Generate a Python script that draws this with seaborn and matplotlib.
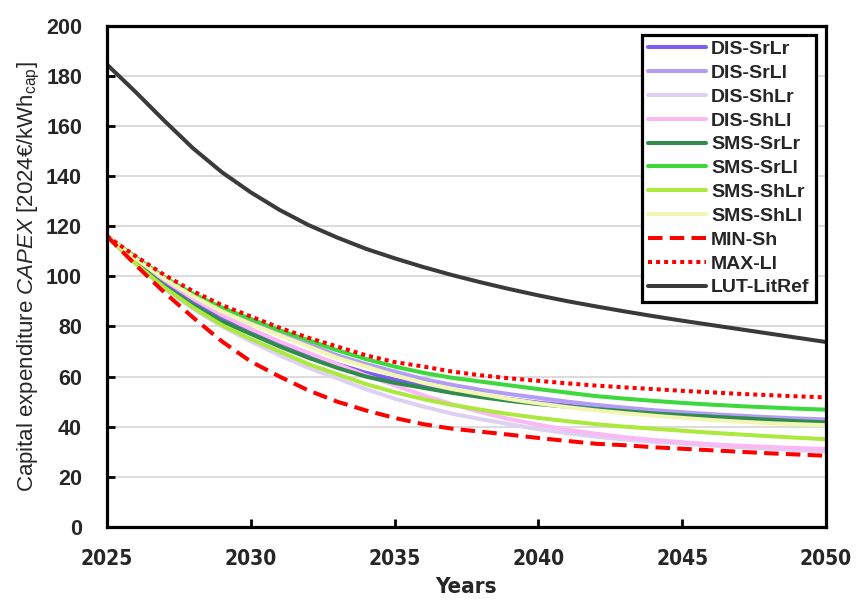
import matplotlib
matplotlib.use("Agg")
import matplotlib.pyplot as plt
import seaborn as sns
import pandas as pd

years = list(range(2025, 2051))

dis_srlr = [116, 106.5, 97.5, 90, 83.5, 78.5, 73.5, 69, 65, 61.5, 58.8, 56.5, 54.3, 52.5, 51, 49.6, 48.4, 47.3, 46.4, 45.6, 44.9, 44.2, 43.6, 43.1, 42.7, 42.4]
dis_srll = [116, 107.5, 99.5, 92.5, 87, 82, 77.5, 73, 68.5, 65, 62, 59, 56.7, 54.7, 53, 51.5, 50, 48.7, 47.6, 46.6, 45.8, 45, 44.4, 43.8, 43.3, 42.9]
dis_shlr = [116, 105, 95, 87, 80, 74, 68.5, 63.5, 59.3, 55, 51.2, 48, 45.2, 43, 41, 39, 37.4, 36, 34.9, 34, 33.2, 32.5, 31.8, 31.2, 30.6, 30.1]
dis_shll = [116, 107, 98.5, 91, 84.5, 79, 74, 69.5, 65, 60.5, 56.5, 52.5, 49, 45.8, 43, 40.8, 38.8, 37.2, 35.8, 34.7, 33.8, 33, 32.4, 31.9, 31.5, 31.1]
sms_srlr = [116, 105.5, 96, 88.5, 82, 77, 72, 67.5, 63.5, 60, 57.5, 55.5, 53.5, 51.8, 50.3, 49, 48, 47, 46.2, 45.3, 44.6, 44, 43.4, 42.8, 42.2, 41.7]
sms_srll = [116, 107.5, 99.5, 93, 87.5, 83, 78.5, 74.5, 70.5, 67, 64, 61.5, 59.5, 58, 56.5, 55, 53.6, 52.2, 51.2, 50.3, 49.5, 48.8, 48.2, 47.7, 47.2, 46.8]
sms_shlr = [116, 105, 95.5, 87.5, 80.5, 75, 70, 65, 61, 57, 53.8, 51, 48.7, 46.8, 45, 43.5, 42.2, 41, 40, 39.2, 38.4, 37.6, 36.9, 36.2, 35.6, 35]
sms_shll = [116, 107, 99, 92, 86, 81, 76.5, 72, 67.5, 64, 60.5, 57.5, 55, 53, 51, 49.3, 47.8, 46.5, 45.4, 44.4, 43.5, 42.7, 42, 41.4, 41, 40.6]
min_sh = [116, 104.5, 93.5, 83.5, 74, 66, 60, 54.5, 50, 46.5, 43.5, 41, 39.2, 38, 36.8, 35.5, 34.3, 33.2, 32.6, 31.8, 31.2, 30.6, 30, 29.4, 28.9, 28.4]
max_ll = [116, 108, 100.5, 94, 88.5, 84, 79.5, 75.5, 72, 68.5, 65.8, 64, 62, 60.5, 59.3, 58.3, 57.3, 56.4, 55.7, 55, 54.3, 53.7, 53.1, 52.6, 52.1, 51.7]
lut_litref = [184.5, 173.5, 162, 151, 141.5, 133.5, 126.5, 120.5, 115.5, 111, 107.2, 103.7, 100.5, 97.6, 94.9, 92.4, 90.1, 88, 86, 84.1, 82.3, 80.6, 78.9, 77.2, 75.5, 73.8]

series_names = ["DIS-SrLr", "DIS-SrLl", "DIS-ShLr", "DIS-ShLl", "SMS-SrLr", "SMS-SrLl",
                "SMS-ShLr", "SMS-ShLl", "MIN-Sh", "MAX-Ll", "LUT-LitRef"]
series_values = [dis_srlr, dis_srll, dis_shlr, dis_shll, sms_srlr, sms_srll,
                 sms_shlr, sms_shll, min_sh, max_ll, lut_litref]

x_ticks = [2025, 2030, 2035, 2040, 2045, 2050]
y_ticks = [0, 20, 40, 60, 80, 100, 120, 140, 160, 180, 200]

colors = ["#7d5cf0", "#b39cf4", "#ddd0f2", "#fab8f4", "#2f8c4c", "#3cd83c",
          "#ace83e", "#f1f7b2", "#ff0000", "#ff0000", "#3a3a3a"]
dashes = [None] * 8 + [(3.6, 1.8), (1.0, 1.0), None]

sns.set_theme(style="white")
plt.rcParams['font.family'] = ['Liberation Sans', 'DejaVu Sans']
plt.rcParams['mathtext.fontset'] = 'custom'
plt.rcParams['mathtext.rm'] = 'Liberation Sans'
plt.rcParams['mathtext.it'] = 'Liberation Sans:italic'
plt.rcParams['mathtext.bf'] = 'Liberation Sans:bold'

fig = plt.figure(figsize=(8.63, 6.12), dpi=100)
ax = fig.add_axes([0.124, 0.139, 0.833, 0.819])

frames = []
for name, vals in zip(series_names, series_values):
    frames.append(pd.DataFrame({"Year": years, "Value": vals, "Series": name}))
df = pd.concat(frames, ignore_index=True)

for i, name in enumerate(series_names):
    sub = df[df["Series"] == name]
    sns.lineplot(data=sub, x="Year", y="Value", color=colors[i], linewidth=2.9,
                 label=name, ax=ax)
    ln = ax.lines[-1]
    if dashes[i] is not None:
        ln.set_dashes(dashes[i])
        ln.set_dash_capstyle('butt')

ax.set_xlim(2025, 2050)
ax.set_ylim(0, 200)
ax.set_xticks(x_ticks)
ax.set_yticks(y_ticks)
ax.yaxis.grid(True, color="#d9d9d9", linewidth=1.3)
ax.xaxis.grid(False)
ax.set_axisbelow(True)

for s in ax.spines.values():
    s.set_visible(True)
    s.set_color("black")
    s.set_linewidth(2.3)

ax.tick_params(axis='both', direction='in', length=6, width=2, color='black',
               left=True, bottom=True, right=False, top=False)
ax.tick_params(axis='y', pad=18)
ax.tick_params(axis='x', pad=16)
ax.set_yticklabels([str(v) for v in y_ticks], fontsize=15.5, fontweight='bold')
ax.set_xticklabels([str(v) for v in x_ticks], fontsize=15, fontweight='bold',
                   family='DejaVu Sans', fontstretch='condensed')

ax.set_xlabel("Years", fontsize=16, fontweight='bold',
              family='DejaVu Sans', fontstretch='condensed', labelpad=6)
ax.set_ylabel(r"Capital expenditure $\mathit{CAPEX}$ [2024€/kWh$_{\mathrm{cap}}$]",
              fontsize=16, labelpad=3)

leg = ax.legend(loc='upper right', bbox_to_anchor=(0.991, 0.99),
                prop={'weight': 'bold', 'size': 14}, frameon=True, fancybox=False,
                edgecolor='black', handlelength=3.0, handletextpad=0.25,
                labelspacing=0.32, borderpad=0.3, borderaxespad=0.2)
leg.get_frame().set_linewidth(2.3)
leg.get_frame().set_alpha(1)

fig.savefig("out.png", dpi=100)
